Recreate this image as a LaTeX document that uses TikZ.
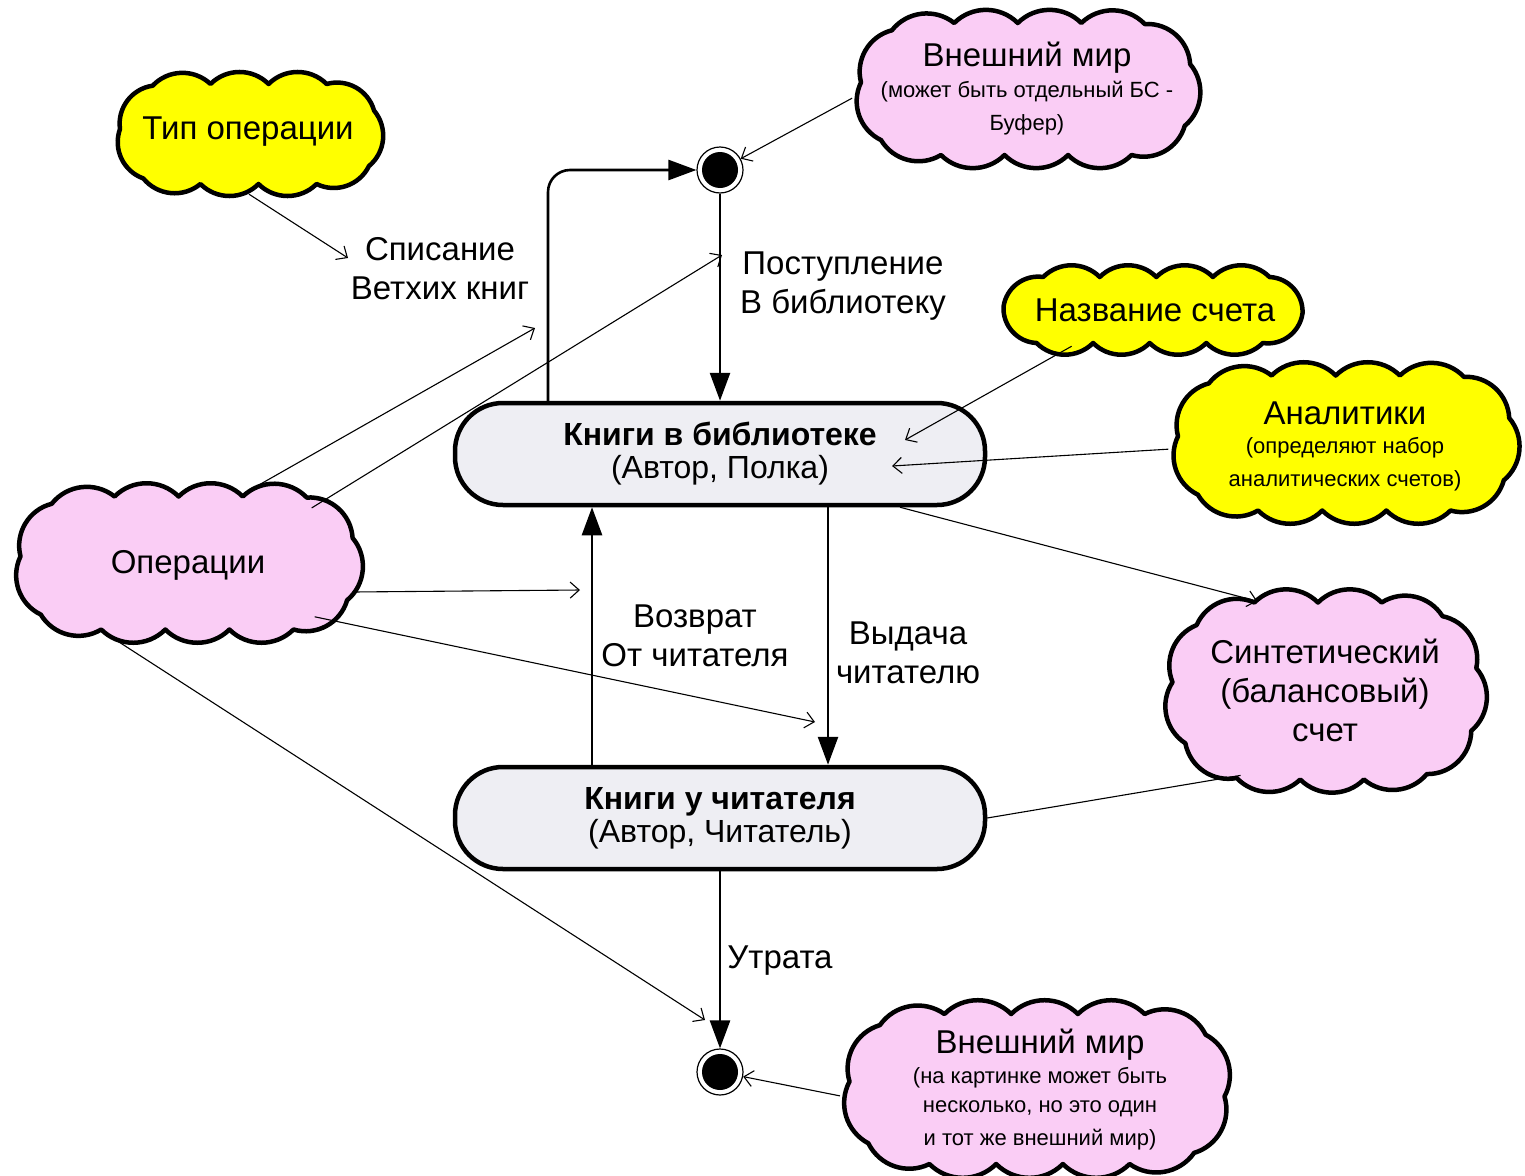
\documentclass[tikz,border=0pt]{standalone}
\usepackage{fontspec}
\setmainfont{Liberation Sans}
\usetikzlibrary{shapes.geometric,arrows.meta,decorations.markings}
\definecolor{pinkc}{HTML}{FACDF5}
\definecolor{yelc}{HTML}{FFFF00}
\definecolor{boxc}{HTML}{EEEEF3}
\newcount\cloudcnt
\newcommand\cloudnode[8]{% #1 name, #2 x, #3 y, #4 width, #5 height, #6 puffs, #7 fill, #8 inset
  \node[ellipse, minimum width=#4pt, minimum height=#5pt, inner sep=0pt] (#1) at (#2,#3) {};
  \pgfmathsetmacro\cA{#4/2-#8}%
  \pgfmathsetmacro\cB{#5/2-#8}%
  \pgfmathsetmacro\cR{0.9*min(\cA,\cB)}%
  \pgfmathsetmacro\cF{1/#6}%
  \global\cloudcnt=0
  \path[rounded corners=\cR pt, decorate, decoration={markings, mark=between positions 0 and 0.999 step \cF\space with {\global\advance\cloudcnt by 1 \coordinate (#1-p\the\cloudcnt);}}] (#2-\cA,#3-\cB) rectangle (#2+\cA,#3+\cB);
  \draw[cloudline, fill=#7] (#1-p1) \foreach \i in {2,...,#6} { to[bend right=45] (#1-p\i) } to[bend right=45] (#1-p1) -- cycle;
}
\begin{document}
\begin{tikzpicture}[x=1pt,y=-1pt,
 cloudline/.style={draw=black, line width=4.5pt, line join=round},
 big/.style={font=\fontsize{33}{39}\selectfont, align=center, inner sep=0pt},
 small/.style={font=\fontsize{22}{33}\selectfont, align=center, inner sep=0pt},
 statebox/.style={draw=black, line width=4.5pt, fill=boxc, rounded corners=48pt, minimum width=530pt, minimum height=102pt, align=center, inner sep=0pt, font=\fontsize{32}{33}\selectfont},
 dot/.style={circle, draw=black, line width=1.2pt, minimum size=46pt, inner sep=0pt, path picture={\fill[black] (path picture bounding box.center) circle (18pt);}},
 flow/.style={line width=2.6pt, -{Triangle[length=28pt,width=20pt]}},
 thinarrow/.style={line width=1.1pt, -{Straight Barb[length=9pt,width=16pt,line width=1.1pt]}},
 thinline/.style={line width=1.1pt},
]
\fill[white] (0,0) rectangle (1525,1175);
\useasboundingbox (0,0) rectangle (1525,1175);

% clouds
\cloudnode{tip}{249}{134}{278}{120}{11}{yelc}{10}
\node[big] (tipt) at (248,132) {Тип операции};

\cloudnode{w1}{1027}{89}{352}{152}{13}{pinkc}{10}
\node[small] (w1t) at (1027,89) {{\fontsize{33}{33}\selectfont Внешний мир}\\[-2pt](может быть отдельный БС -\\Буфер)};

\cloudnode{naz}{1153}{310}{317}{84}{12}{yelc}{9}
\node[big] (nazt) at (1155,310) {Название счета};

\cloudnode{anal}{1345}{443}{354}{155}{13}{yelc}{10}
\node[small] (analt) at (1345,446) {{\fontsize{33}{33}\selectfont Аналитики}\\[-4pt](определяют набор\\аналитических счетов)};

\cloudnode{ops}{188}{563}{355}{153}{13}{pinkc}{10}
\node[big] (opst) at (188,565) {Операции};

\cloudnode{syn}{1325}{691}{325}{197}{13}{pinkc}{10}
\node[big] (synt) at (1325,690) {Синтетический\\(балансовый)\\счет};

\cloudnode{w2}{1037}{1089}{395}{170}{14}{pinkc}{10}
\node[small] (w2t) at (1040,1090) {{\fontsize{33}{33}\selectfont Внешний мир}\\[-3pt](на картинке может быть\\[-4pt]несколько, но это один\\и тот же внешний мир)};

% states
\node[statebox] (lib) at (720,454) {{\bfseries Книги в библиотеке}\\(Автор, Полка)};
\node[statebox] (rdr) at (720,818) {{\bfseries Книги у читателя}\\(Автор, Читатель)};

\node[dot] (dtop) at (720,170) {};
\node[dot] (dbot) at (720,1072) {};

% labels
\node[big] (lSp) at (440,269) {Списание\\Ветхих книг};
\node[big] (lPo) at (843,286) {Поступление\\В библиотеку};
\node[big] (lVo) at (695,636) {Возврат\\От читателя};
\node[big] (lVy) at (908,653) {Выдача\\читателю};
\node[big] (lUt) at (780,961) {Утрата};

% main flows
\draw[flow] (dtop) -- (lib);
\draw[flow, rounded corners=22pt] ([xshift=-172pt]lib.north) |- (dtop.west);
\draw[flow] ([xshift=108pt]lib.south) -- ([xshift=108pt]rdr.north);
\draw[flow] ([xshift=-128pt]rdr.north) -- ([xshift=-128pt]lib.south);
\draw[flow] (rdr) -- (dbot);

% thin connectors
\coordinate (cSp) at (348,258);
\coordinate (cOp1) at (535,328);
\coordinate (cOp2) at (722,255);
\coordinate (cOp3) at (580,590);
\coordinate (cOp4) at (815,722);
\coordinate (cOp5) at (705,1020);
\coordinate (cNz) at (905,440);
\coordinate (cAn) at (892,466);

\draw[thinarrow] (tip.south) -- (cSp);
\draw[thinarrow] (w1.183) -- (dtop);
\draw[thinarrow] (ops.50) -- (cOp1);
\draw[thinarrow] (ops.24) -- (cOp2);
\draw[thinarrow] (ops.-10) -- (cOp3);
\draw[thinarrow] (ops.-23) -- (cOp4);
\draw[thinarrow] (ops.217) -- (cOp5);
\draw[thinarrow] (naz.204) -- (cNz);
\draw[thinarrow] (anal.182) -- (cAn);
\draw[thinarrow] ([xshift=180pt]lib.south) -- (syn.127);
\draw[thinline] (rdr.east) -- (syn.225);
\draw[thinarrow] (w2.182) -- (dbot);
\end{tikzpicture}
\end{document}
